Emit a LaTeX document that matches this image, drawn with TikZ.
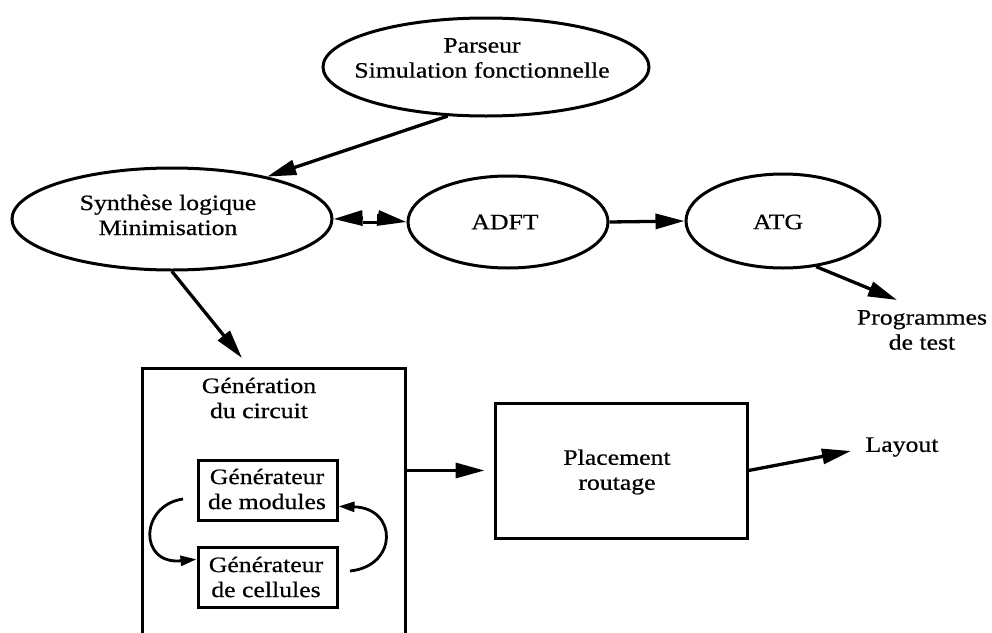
\documentclass[tikz,border=0pt]{standalone}
\usepackage{fontspec}
\setmainfont{Liberation Serif}[FakeStretch=1.17,FakeBold=0.6]
\usetikzlibrary{arrows.meta,calc,shapes.geometric}
\begin{document}
\begin{tikzpicture}[x=1pt,y=-1pt,
  ell/.style={draw,ellipse,line width=3pt,inner sep=0pt},
  boxn/.style={draw,rectangle,line width=3pt,inner sep=0pt},
  txt/.style={align=center,inner sep=0pt,font=\fontsize{22}{25}\selectfont},
  arr/.style={line width=3.3pt,-{Triangle[length=29pt,width=15pt]}},
  sarr/.style={line width=2.8pt,-{Triangle[length=16pt,width=10pt]}},
  plain/.style={line width=3pt}]
\useasboundingbox (0,0) rectangle (992,632);
% shapes
\node[ell,minimum width=326pt,minimum height=98pt] (parseur) at (486,67) {};
\node[txt] (parseurT) at (482,58) {Parseur\\Simulation fonctionnelle};
\node[ell,minimum width=320pt,minimum height=102pt] (synth) at (172,219) {};
\node[txt] (synthT) at (168,215) {Synthèse logique\\Minimisation};
\node[ell,minimum width=200pt,minimum height=92pt] (adft) at (508,222) {};
\node[txt] (adftT) at (505,222) {ADFT};
\node[ell,minimum width=194pt,minimum height=94pt] (atg) at (783,221) {};
\node[txt] (atgT) at (778,222) {ATG};
\node[txt] (prog) at (922,330) {Programmes\\de test};
\node[boxn,minimum width=263pt,minimum height=300pt] (gen) at (273.5,518) {};
\node[txt] (genT) at (259,398) {Génération\\du circuit};
\node[boxn,minimum width=139pt,minimum height=60pt] (mod) at (267.5,490) {};
\node[txt] (modT) at (267,489) {Générateur\\de modules};
\node[boxn,minimum width=139pt,minimum height=60pt] (cel) at (267.5,577) {};
\node[txt] (celT) at (266,577) {Générateur\\de cellules};
\node[boxn,minimum width=252pt,minimum height=135pt] (place) at (621,470.5) {};
\node[txt] (placeT) at (617,472) {Placement\\routage};
\node[txt] (layout) at (902,447) {Layout};
% free ends
\coordinate (genin) at (242,358);
\coordinate (progin) at (897,300);
\coordinate (layin) at (851,451);
\coordinate (j1) at (363,218);
\coordinate (j2) at (378,218);
\coordinate (l1) at (183,499);
\coordinate (r1) at (350,571);
% connectors
\draw[arr] (parseur.232) -- (synth.24);
\draw[arr] (synth.270) -- (genin);
\draw[arr] (j1) -- (synth.east);
\draw[plain] ($(j1)+(0,4)$) -- ($(j2)+(0,4)$) -- ($(j2)+(0,-4)$);
\draw[arr] (j2) -- (adft.west);
\draw[arr] (adft.east) -- (atg.west);
\draw[arr] (atg.-54) -- (progin);
\draw[arr,shorten >=9pt] (gen.east |- place.west) -- (place.west);
\draw[arr] (place.east) -- (layin);
\draw[sarr] (l1) .. controls (140,505) and (138,565) .. (cel.166);
\draw[sarr] (r1) .. controls (398,566) and (398,508) .. (mod.-13);
\end{tikzpicture}
\end{document}
